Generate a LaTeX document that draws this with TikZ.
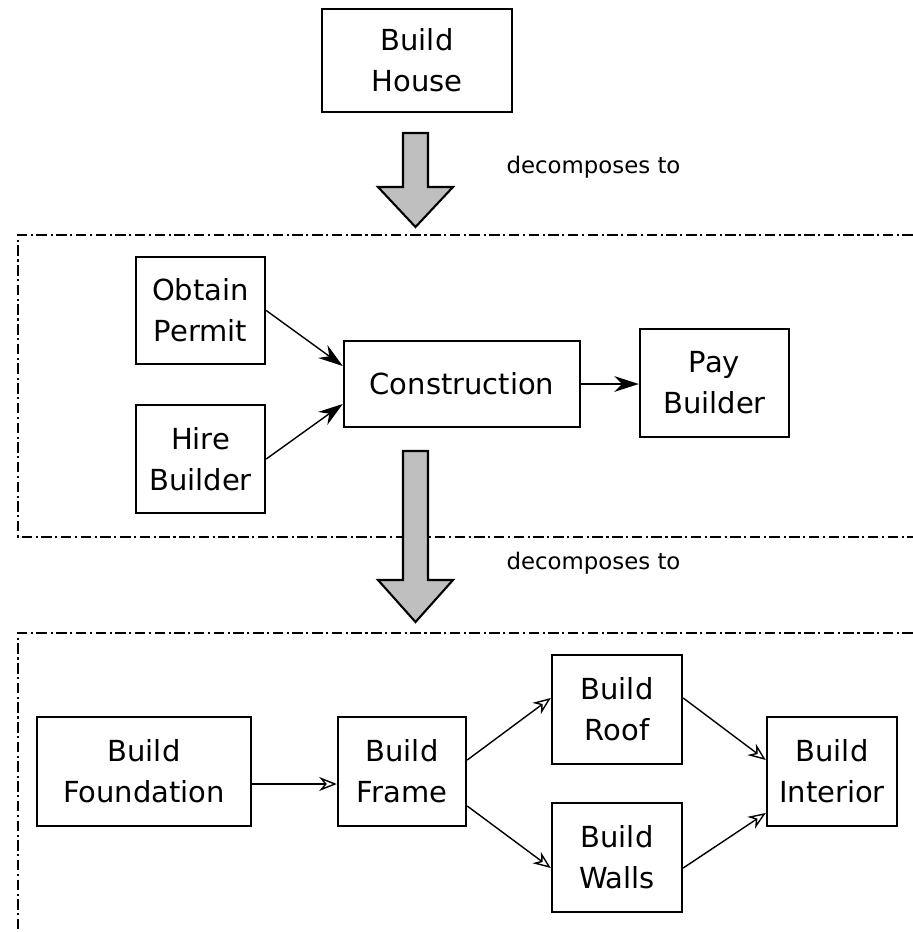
\documentclass[tikz,border=0pt]{standalone}
\usepackage{fontspec}
\setmainfont{DejaVu Sans}
\usetikzlibrary{positioning,arrows.meta,calc}

\begin{document}
\begin{tikzpicture}[
        task/.style = {draw,line width=.7pt,align=center,inner sep=0pt,
            font=\fontsize{8.25}{11.6}\selectfont},
        group/.style = {line width=.6pt,dash pattern=on 3pt off 1pt on .6pt off 1pt},
        decomp/.style = {draw,line width=.6pt,fill=gray!50},
        flow/.style = {line width=.4pt,-{Stealth[length=7pt,width=4.5pt]}},
        seq/.style = {line width=.4pt,-{Stealth[open,length=5pt,width=4pt]}},
        note/.style = {font=\fontsize{6.5}{8}\selectfont}
        ]

        \useasboundingbox (0,0) rectangle (9.13,-9.32);

        %Rahmen
        \draw[group] (9.13,-2.35) -| (.18,-5.37) -- (9.13,-5.37);
        \draw[group] (9.13,-6.33) -| (.18,-9.32);

        %Haus
        \node[task,minimum width=1.9cm,minimum height=1.03cm] (house) at (4.17,-.605) {Build\\House};
        \coordinate (a1) at (4.03,-1.33);
        \draw[decomp] (a1) -- ++(.25,0) -- ++(0,-.54) -- ++(.25,0)
            -- ++(-.375,-.40) -- ++(-.375,.40) -- ++(.25,0) -- cycle;
        \node[note] (d1) at (5.935,-1.67) {decomposes to};

        %Ebene 1
        \node[task,minimum width=1.29cm,minimum height=1.07cm] (obtain) at (2.005,-3.105) {Obtain\\Permit};
        \node[task,minimum width=1.29cm,minimum height=1.08cm] (hire) at (2.005,-4.59) {Hire\\Builder};
        \node[task,minimum width=2.36cm,minimum height=.86cm] (constr) at (4.62,-3.84) {Construction};
        \node[task,minimum width=1.49cm,minimum height=1.08cm] (pay) at (7.145,-3.83) {Pay\\Builder};
        \draw[flow] (obtain.east) -- ([yshift=.18cm]constr.west);
        \draw[flow] (hire.east) -- ([yshift=-.2cm]constr.west);
        \draw[flow] (constr.east) -- (pay.west |- constr.east);

        \coordinate (a2) at (4.03,-4.51);
        \draw[decomp] (a2) -- ++(.25,0) -- ++(0,-1.29) -- ++(.25,0)
            -- ++(-.375,-.42) -- ++(-.375,.42) -- ++(.25,0) -- cycle;
        \node[note] (d2) at (5.935,-5.63) {decomposes to};

        %Ebene 2
        \node[task,minimum width=2.14cm,minimum height=1.09cm] (found) at (1.44,-7.715) {Build\\Foundation};
        \node[task,minimum width=1.28cm,minimum height=1.09cm] (frame) at (4.02,-7.715) {Build\\Frame};
        \node[task,minimum width=1.3cm,minimum height=1.09cm] (roof) at (6.17,-7.095) {Build\\Roof};
        \node[task,minimum width=1.3cm,minimum height=1.09cm] (walls) at (6.17,-8.575) {Build\\Walls};
        \node[task,minimum width=1.3cm,minimum height=1.09cm] (inter) at (8.32,-7.715) {Build\\Interior};
        \draw[seq] ([yshift=-.125cm]found.east) -- ([yshift=-.125cm]frame.west);
        \draw[seq] ([yshift=.115cm]frame.east) -- ([yshift=.115cm]roof.west);
        \draw[seq] ([yshift=-.345cm]frame.east) -- ([yshift=-.105cm]walls.west);
        \draw[seq] ([yshift=.115cm]roof.east) -- ([yshift=.115cm]inter.west);
        \draw[seq] ([yshift=-.105cm]walls.east) -- ([yshift=-.415cm]inter.west);

\end{tikzpicture}
\end{document}
